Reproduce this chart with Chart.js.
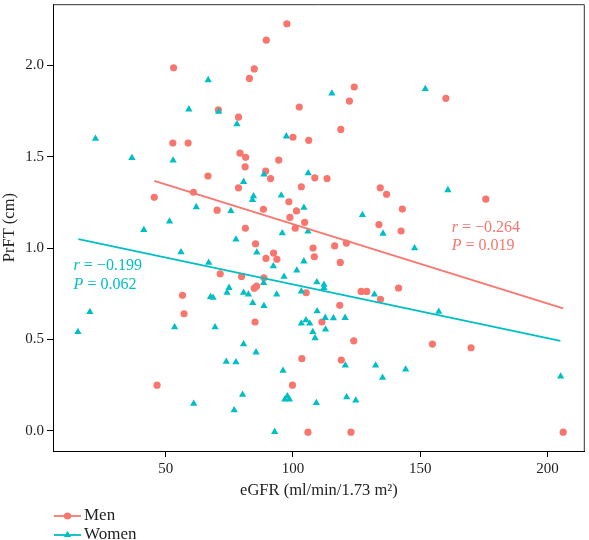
<!DOCTYPE html>
<html>
<head>
<meta charset="utf-8">
<script src="https://cdn.jsdelivr.net/npm/chart.js@4.4.1/dist/chart.umd.min.js"></script>
<style>
html,body{margin:0;padding:0;background:#fff;}
canvas{display:block;}
</style>
</head>
<body>
<canvas id="c" width="589" height="540"></canvas>
<script>
// ---- data ----
const menEGFR = [97.6,89.5,53.1,84.8,82.9,124.1,122.2,160.1,102.5,70.7,78.6,118.8,100.0,106.2,52.8,58.8,79.2,81.4,94.4,81.2,89.3,66.6,91.2,108.6,113.4,78.6,103.3,134.3,136.8,60.9,45.5,175.8,98.4,88.4,143.0,70.2,101.4,98.8,104.6,133.8,100.9,81.3,142.5,85.3,121.0,116.4,107.9,92.4,108.4,93.7,89.4,118.6,71.4,79.8,88.6,141.5,84.8,85.7,126.8,129.0,105.2,56.6,134.4,118.4,57.2,85.1,111.4,123.9,154.8,170.0,103.5,119.0,46.6,99.8,105.9,122.8,206.2];
const menPrFT = [2.228,2.138,1.987,1.981,1.929,1.882,1.805,1.820,1.772,1.757,1.717,1.650,1.607,1.590,1.575,1.575,1.520,1.497,1.482,1.445,1.422,1.395,1.381,1.385,1.381,1.330,1.336,1.330,1.295,1.306,1.278,1.268,1.254,1.213,1.214,1.208,1.204,1.168,1.141,1.129,1.109,1.109,1.094,1.024,1.028,1.012,1.001,0.973,0.953,0.939,0.944,0.922,0.860,0.845,0.838,0.782,0.781,0.792,0.763,0.763,0.756,0.742,0.720,0.687,0.641,0.596,0.596,0.493,0.475,0.455,0.395,0.388,0.250,0.250,-0.007,-0.007,-0.007];
const womenEGFR = [66.7,59.1,70.8,115.3,152.0,78.0,97.4,22.4,36.7,52.9,88.6,106.0,80.6,84.5,84.1,95.4,160.9,62.0,75.6,104.3,127.3,51.5,41.4,105.9,95.8,135.4,77.6,147.8,56.0,85.8,66.9,104.3,92.3,101.5,96.5,88.5,74.9,109.4,112.2,112.2,74.1,80.6,93.6,82.5,103.3,132.0,67.6,68.6,84.2,88.6,157.3,20.2,109.5,112.7,115.9,120.5,103.3,105.1,106.6,107.8,112.8,108.7,15.5,53.5,69.4,80.6,85.5,73.8,77.6,96.1,120.6,132.5,135.2,144.3,205.2,80.2,76.9,61.0,96.8,97.8,98.6,109.2,121.1,124.7,92.8];
const womenPrFT = [1.920,1.760,1.747,1.847,1.871,1.678,1.612,1.599,1.494,1.480,1.404,1.410,1.363,1.285,1.264,1.289,1.318,1.225,1.204,1.221,1.182,1.146,1.100,1.092,1.082,1.080,1.048,1.000,0.978,0.977,0.921,0.928,0.901,0.878,0.844,0.810,0.783,0.814,0.800,0.782,0.756,0.756,0.747,0.747,0.764,0.747,0.733,0.729,0.700,0.684,0.652,0.651,0.655,0.619,0.617,0.619,0.588,0.606,0.588,0.542,0.555,0.508,0.542,0.568,0.568,0.475,0.430,0.379,0.376,0.330,0.358,0.358,0.291,0.336,0.298,0.198,0.113,0.149,0.172,0.190,0.172,0.153,0.185,0.167,-0.005];
// fitted regression lines (end points)
const menFitX = [45.5, 206.2];
const menFitY = [1.368, 0.670];
const womenFitX = [15.7, 205.1];
const womenFitY = [1.050, 0.492];
// ticks
const xTicks = [50, 100, 150, 200];
const yTicks = [0.0, 0.5, 1.0, 1.5, 2.0];
// annotation texts
const menStat = ['r', ' = \u22120.264', 'P', ' = 0.019'];
const womenStat = ['r', ' = \u22120.199', 'P', ' = 0.062'];
const seriesNames = ['Men', 'Women'];

const RED = '#F8766D';
const TEAL = '#00BFC4';
const SERIF = '"Liberation Serif", "DejaVu Serif", serif';

const pts = (xs, ys) => xs.map((x, i) => ({x: x, y: ys[i]}));

const annotPlugin = {
  id: 'annot',
  afterDraw(chart) {
    const ctx = chart.ctx, xs = chart.scales.x, ys = chart.scales.y, ca = chart.chartArea;
    ctx.save();
    // top/right frame
    ctx.strokeStyle = '#333';
    ctx.lineWidth = 1;
    ctx.beginPath();
    ctx.moveTo(ca.left, ca.top + 0.5);
    ctx.lineTo(ca.right - 0.5, ca.top + 0.5);
    ctx.lineTo(ca.right - 0.5, ca.bottom);
    ctx.stroke();

    function stat(parts, xv, y1, y2, color) {
      ctx.fillStyle = color;
      ctx.textBaseline = 'middle';
      ctx.textAlign = 'left';
      const x0 = xs.getPixelForValue(xv);
      [[parts[0], parts[1], y1], [parts[2], parts[3], y2]].forEach(([it, rest, yv]) => {
        const yp = ys.getPixelForValue(yv);
        ctx.font = 'italic 16px ' + SERIF;
        ctx.fillText(it, x0, yp);
        const w = ctx.measureText(it).width;
        ctx.font = '16px ' + SERIF;
        ctx.fillText(rest, x0 + w, yp);
      });
    }
    stat(womenStat, 13.8, 0.905, 0.801, TEAL);
    stat(menStat, 162.4, 1.113, 1.013, RED);

    // legend
    const items = [[seriesNames[0], RED, 'circle', 516], [seriesNames[1], TEAL, 'triangle', 535]];
    items.forEach(([name, col, shape, yy]) => {
      ctx.strokeStyle = col;
      ctx.fillStyle = col;
      ctx.lineWidth = 1.8;
      ctx.beginPath();
      ctx.moveTo(54, yy);
      ctx.lineTo(81, yy);
      ctx.stroke();
      ctx.beginPath();
      if (shape === 'circle') {
        ctx.arc(67.5, yy, 3.6, 0, Math.PI * 2);
      } else {
        const r = 4.2;
        ctx.moveTo(67.5, yy - r);
        ctx.lineTo(67.5 + r * 0.866, yy + r * 0.5);
        ctx.lineTo(67.5 - r * 0.866, yy + r * 0.5);
        ctx.closePath();
      }
      ctx.fill();
      ctx.fillStyle = '#222';
      ctx.font = '17px ' + SERIF;
      ctx.textBaseline = 'middle';
      ctx.fillText(name, 84, yy);
    });
    ctx.restore();
  }
};

const tickFont = {family: SERIF, size: 15};
const titleFont = {family: SERIF, size: 16.5};

new Chart(document.getElementById('c'), {
  type: 'scatter',
  data: {
    datasets: [
      {type: 'line', label: 'Men fit', data: pts(menFitX, menFitY), borderColor: RED, borderWidth: 1.8, pointRadius: 0, fill: false},
      {type: 'line', label: 'Women fit', data: pts(womenFitX, womenFitY), borderColor: TEAL, borderWidth: 1.8, pointRadius: 0, fill: false},
      {label: seriesNames[1], data: pts(womenEGFR, womenPrFT), pointStyle: 'triangle', pointRadius: 4.2, backgroundColor: TEAL, borderColor: TEAL, borderWidth: 0},
      {label: seriesNames[0], data: pts(menEGFR, menPrFT), pointStyle: 'circle', pointRadius: 3.6, backgroundColor: RED, borderColor: RED, borderWidth: 0}
    ]
  },
  options: {
    responsive: false,
    animation: false,
    layout: {padding: {left: 0, top: 1, right: 1, bottom: 39}},
    plugins: {legend: {display: false}, tooltip: {enabled: false}},
    scales: {
      x: {
        type: 'linear', min: 5.7, max: 214.7,
        afterBuildTicks: s => { s.ticks = xTicks.map(v => ({value: v})); },
        afterFit: s => { s.height = 50; s.paddingLeft = 0; s.paddingRight = 0; },
        ticks: {font: tickFont, color: '#222', padding: 3, maxRotation: 0, callback: v => String(v)},
        grid: {display: true, drawOnChartArea: false, drawTicks: true, tickLength: 6, tickColor: '#000', color: '#000'},
        border: {display: true, color: '#000', width: 1},
        title: {display: true, text: 'eGFR (ml/min/1.73 m\u00B2)', font: titleFont, color: '#222', padding: 0}
      },
      y: {
        type: 'linear', min: -0.11, max: 2.335,
        afterBuildTicks: s => { s.ticks = yTicks.map(v => ({value: v})); },
        afterFit: s => { s.width = 53; s.paddingTop = 0; s.paddingBottom = 0; },
        ticks: {font: tickFont, color: '#222', padding: 3, callback: v => Number(v).toFixed(1)},
        grid: {display: true, drawOnChartArea: false, drawTicks: true, tickLength: 6, tickColor: '#000', color: '#000'},
        border: {display: true, color: '#000', width: 1},
        title: {display: true, text: 'PrFT (cm)', font: titleFont, color: '#222', padding: 0}
      }
    }
  },
  plugins: [annotPlugin]
});
</script>
</body>
</html>
